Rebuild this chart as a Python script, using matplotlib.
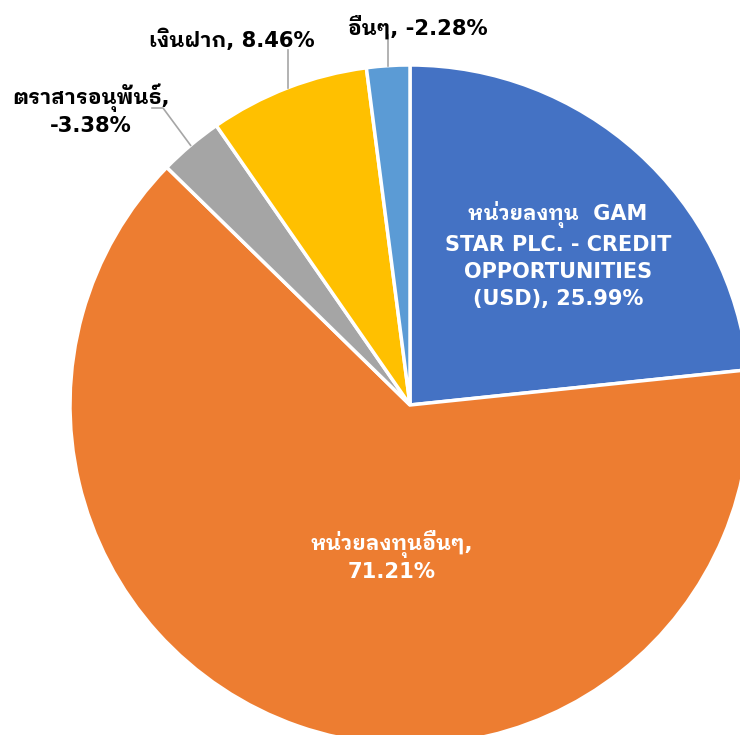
import matplotlib
matplotlib.use("Agg")
import matplotlib.pyplot as plt
import numpy as np

labels = ["หน่วยลงทุน  GAM\nSTAR PLC. - CREDIT\nOPPORTUNITIES\n(USD),", "หน่วยลงทุนอื่นๆ,", "ตราสารอนุพันธ์,", "เงินฝาก,", "อื่นๆ,"]
values = [25.99, 71.21, -3.38, 8.46, -2.28]
colors = ["#4472C4", "#ED7D31", "#A5A5A5", "#FFC000", "#5B9BD5"]

FONT = ["DejaVu Sans", "IBM Plex Sans Thai Looped"]
FS = 15.2

W, H = 740, 735
cx, cy, R = 410, 405, 340
fig = plt.figure(figsize=(W / 100, H / 100), dpi=100)
ax = fig.add_axes([(cx - R) / W, (H - cy - R) / H, 2 * R / W, 2 * R / H])

sizes = [abs(v) for v in values]
wedges, _ = ax.pie(sizes, colors=colors, startangle=90, counterclock=False,
                   radius=1, wedgeprops=dict(edgecolor="white", linewidth=2.5))
ax.set_xlim(-1, 1)
ax.set_ylim(-1, 1)
ax.axis("off")
for w in wedges:
    w.set_clip_on(False)

def px2d(px, py):
    return (px - cx) / R, (cy - py) / R

def fmt(v):
    return f"{v:.2f}%"

# inside labels
t0 = labels[0].replace("(USD),", "(USD), " + fmt(values[0]))
x, y = px2d(558, 255)
ax.text(x, y, t0, ha="center", va="center", color="white", fontsize=15,
        fontweight="bold", family=FONT, linespacing=1.42)
x, y = px2d(392, 556)
ax.text(x, y, labels[1] + "\n" + fmt(values[1]), ha="center", va="center", color="white",
        fontsize=FS, fontweight="bold", family=FONT, linespacing=1.3)

def mid_point(w):
    a = np.deg2rad((w.theta1 + w.theta2) / 2)
    return np.cos(a), np.sin(a)

lc = "#A6A6A6"
# gray label
ex, ey = mid_point(wedges[2])
x1, y1 = px2d(163, 108)
x2, y2 = px2d(152, 108)
ax.plot([ex, x1, x2], [ey, y1, y2], color=lc, lw=1.2, clip_on=False)
x, y = px2d(91, 110)
ax.text(x, y, labels[2] + "\n" + fmt(values[2]), ha="center", va="center", color="#000000",
        fontsize=FS, fontweight="bold", family=FONT, linespacing=1.25)

# yellow label
ex, ey = mid_point(wedges[3])
_, y1 = px2d(0, 50)
ax.plot([ex, ex], [ey, y1], color=lc, lw=1.2, clip_on=False)
x, y = px2d(232, 40)
ax.text(x, y, labels[3] + " " + fmt(values[3]), ha="center", va="center", color="#000000",
        fontsize=FS, fontweight="bold", family=FONT)

# light blue label
ex, ey = mid_point(wedges[4])
_, y1 = px2d(0, 35)
ax.plot([ex, ex], [ey, y1], color=lc, lw=1.2, clip_on=False)
x, y = px2d(418, 27)
ax.text(x, y, labels[4] + " " + fmt(values[4]), ha="center", va="center", color="#000000",
        fontsize=FS, fontweight="bold", family=FONT)

fig.savefig("out.png", dpi=100, facecolor="white")
